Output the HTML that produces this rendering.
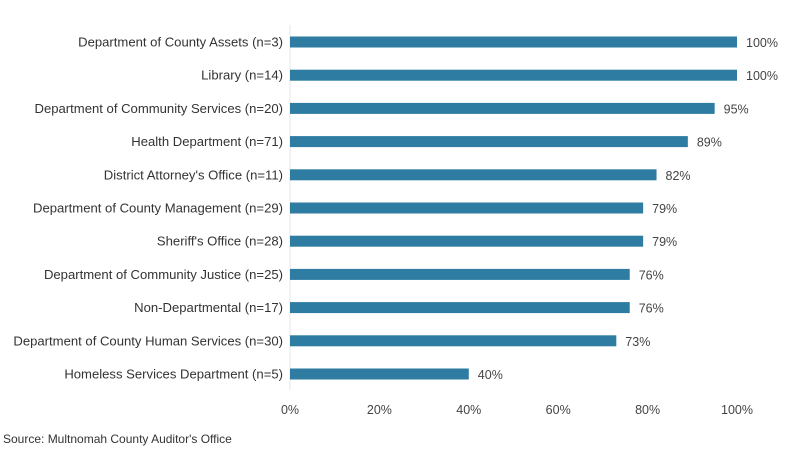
<!DOCTYPE html>
<html><head><meta charset="utf-8"><style>
body{margin:0;background:#fff;width:800px;height:461px;overflow:hidden;font-family:"Liberation Sans",sans-serif}
</style></head><body>
<svg id="chart" width="800" height="461" xmlns="http://www.w3.org/2000/svg"></svg>
<div style="position:absolute;left:3px;top:432px;font-size:12px;color:#333">Source: Multnomah County Auditor's Office</div>
<script>
const categories=["Department of County Assets (n=3)","Library (n=14)","Department of Community Services (n=20)","Health Department (n=71)","District Attorney's Office (n=11)","Department of County Management (n=29)","Sheriff's Office (n=28)","Department of Community Justice (n=25)","Non-Departmental (n=17)","Department of County Human Services (n=30)","Homeless Services Department (n=5)"];
const values=[100,100,95,89,82,79,79,76,76,73,40];
const ticks=[0,20,40,60,80,100];
const svg=document.getElementById('chart');
const NS='http://www.w3.org/2000/svg';
const x=v=>290+v*4.47;
const y=i=>42+i*33.2;
function mk(t,a){const e=document.createElementNS(NS,t);for(const k in a)e.setAttribute(k,a[k]);svg.appendChild(e);return e;}
const ax=mk('line',{x1:290,x2:290,y1:25,y2:390,stroke:'#e6e6e6','stroke-width':1});


categories.forEach((c,i)=>{
  const l=mk('text',{x:283,y:y(i)+4.5,'text-anchor':'end','font-size':13.1,fill:'#333'});
  l.textContent=c;
  
  
  const b=mk('rect',{x:290,y:y(i)-5.5,width:x(values[i])-290,height:11,fill:'#2e7ca1'});
  
  
  const v=mk('text',{x:x(values[i])+9,y:y(i)+5,'font-size':12.5,fill:'#444'});
  v.textContent=values[i]+'%';
  
  
});
ticks.forEach(t=>{
  const e=mk('text',{x:x(t),y:414,'text-anchor':'middle','font-size':12.5,fill:'#444'});
  e.textContent=t+'%';
  
  
});
</script>
</body></html>
